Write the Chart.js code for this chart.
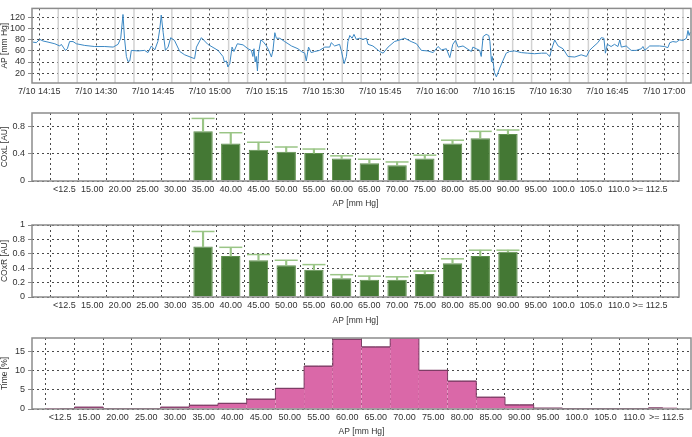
<!DOCTYPE html>
<html>
<head>
<meta charset="utf-8">
<title>AP / COx</title>
<script src="https://cdn.jsdelivr.net/npm/chart.js@4.4.1/dist/chart.umd.min.js"></script>
<style>
  html, body { margin: 0; padding: 0; background: #fff; }
  #page { position: relative; width: 692px; height: 437px; overflow: hidden; }
  #page canvas { position: absolute; left: 0; }
</style>
</head>
<body>
<div id="page">
  <canvas id="apChart" width="692" height="100" style="top:0"></canvas>
  <canvas id="coxlChart" width="692" height="112" style="top:100px"></canvas>
  <canvas id="coxrChart" width="692" height="117" style="top:212px"></canvas>
  <canvas id="timeChart" width="692" height="108" style="top:329px"></canvas>
</div>
<script>
'use strict';

// ---- data ----------------------------------------------------------------
// arterial pressure trace, time in minutes since midnight (7/10)
const apMinutes = [
    853.3, 854.2, 855.1, 856.0, 857.3, 859.1, 860.4, 860.8, 861.3, 861.9,
    862.4, 863.0, 863.9, 864.8, 867.0, 869.6, 872.3, 874.5, 875.8, 876.5,
    877.1, 877.5, 878.0, 878.4, 878.9, 879.3, 881.1, 882.8, 883.7, 884.6,
    885.5, 886.3, 886.8, 887.2, 887.7, 888.3, 889.0, 889.7, 890.7, 892.1,
    893.4, 896.0, 896.5, 897.8, 899.5, 902.2, 903.5, 903.9, 904.4, 904.8,
    905.3, 905.9, 906.4, 907.3, 908.8, 910.1, 911.0, 911.4, 911.7, 912.0,
    912.3, 912.6, 912.9, 913.5, 914.1, 915.0, 915.6, 916.3, 916.7, 917.2,
    917.6, 918.5, 919.8, 921.6, 923.3, 924.2, 925.1, 925.5, 926.1, 926.8,
    927.7, 929.0, 930.4, 931.7, 932.1, 933.0, 934.3, 934.8, 935.5, 936.1,
    936.5, 937.0, 937.6, 938.1, 938.7, 939.6, 940.5, 941.4, 941.8, 943.1,
    944.9, 945.8, 947.1, 948.8, 950.2, 951.5, 953.2, 954.6, 955.9, 957.6,
    959.0, 960.3, 961.2, 962.5, 963.4, 964.2, 964.9, 965.6, 966.9, 968.2,
    969.1, 969.5, 970.4, 971.3, 971.7, 972.2, 973.0, 973.7, 974.0, 974.4,
    974.6, 974.9, 975.2, 975.7, 976.6, 977.4, 978.3, 979.2, 980.5, 982.3,
    984.0, 985.8, 987.6, 988.9, 989.8, 990.2, 991.1, 992.0, 993.3, 994.6,
    996.4, 998.1, 999.5, 1000.3, 1001.2, 1002.5, 1003.4, 1004.1, 1004.5, 1005.0,
    1006.0, 1006.9, 1007.8, 1008.3, 1008.7, 1010.0, 1011.3, 1012.6, 1014.0, 1014.4,
    1014.9, 1016.2, 1018.8, 1020.1, 1021.0, 1021.5, 1022.3, 1023.2, 1024.1, 1025.0,
    1025.9, 1026.3, 1026.6, 1026.9
];
const apValues = [
    76, 75, 81, 78, 76, 73, 69, 72, 67, 61,
    64, 77, 77, 73, 70, 68, 68, 67, 72, 83,
    126, 83, 50, 41, 42, 61, 60, 61, 57, 69,
    62, 77, 99, 125, 94, 61, 67, 84, 79, 59,
    53, 46, 67, 84, 72, 61, 50, 40, 42, 31,
    37, 67, 59, 73, 71, 64, 61, 50, 64, 40,
    50, 24, 56, 80, 77, 69, 61, 49, 61, 93,
    83, 83, 77, 69, 64, 59, 56, 42, 67, 57,
    59, 61, 67, 67, 75, 69, 72, 59, 37, 50,
    77, 88, 83, 90, 81, 83, 81, 83, 72, 69,
    59, 56, 67, 77, 80, 83, 77, 73, 61, 60,
    57, 68, 62, 64, 48, 72, 79, 67, 69, 63,
    59, 67, 64, 61, 50, 86, 90, 88, 77, 40,
    50, 37, 21, 13, 29, 42, 56, 59, 60, 57,
    56, 55, 56, 56, 50, 61, 80, 69, 64, 50,
    49, 53, 50, 61, 67, 75, 84, 83, 56, 72,
    68, 72, 68, 80, 67, 69, 61, 61, 64, 68,
    61, 69, 69, 68, 66, 75, 77, 76, 80, 79,
    83, 97, 88, 94
];
const apTimeRange = [853.07, 1027.1];
const apRange = [2, 137];
const apTickDate = '7/10';

// AP bins shared by the three lower panels
const apBins = ['<12.5', '15.00', '20.00', '25.00', '30.00', '35.00', '40.00', '45.00',
    '50.00', '55.00', '60.00', '65.00', '70.00', '75.00', '80.00', '85.00', '90.00',
    '95.00', '100.0', '105.0', '110.0', '>= 112.5'];

// COx per bin (mean and upper error), null = no data
const coxL = [null, null, null, null, null, 0.73, 0.55, 0.46, 0.43, 0.41, 0.33, 0.26,
    0.23, 0.33, 0.55, 0.63, 0.69, null, null, null, null, null];
const coxLErr = [null, null, null, null, null, 0.19, 0.16, 0.11, 0.07, 0.06, 0.04, 0.06,
    0.05, 0.05, 0.05, 0.10, 0.06, null, null, null, null, null];
const coxR = [null, null, null, null, null, 0.70, 0.57, 0.51, 0.44, 0.38, 0.26, 0.24,
    0.24, 0.32, 0.47, 0.57, 0.63, null, null, null, null, null];
const coxRErr = [null, null, null, null, null, 0.21, 0.12, 0.08, 0.07, 0.07, 0.05, 0.05,
    0.04, 0.04, 0.06, 0.08, 0.02, null, null, null, null, null];

// share of monitoring time per bin [%]
const timePct = [0.05, 0.5, 0.05, 0.05, 0.5, 1.0, 1.5, 2.6, 5.4, 11.2, 18.2, 16.2,
    18.5, 10.1, 7.3, 3.1, 1.1, 0.25, 0.1, 0.1, 0.1, 0.3];

// ---- styles ---------------------------------------------------------------
const TEXT = '#333';
const GRID = '#4a4a4a';
const DASH = [2, 3];
const FRAME = '#8c8c8c';
const MINOR = '#d2d2d2';
const BLUE = '#3b88c4';
const GREEN = '#447834';
const ERR = '#9ac586';
const PINK = '#da68a8';
const PINK_EDGE = '#7e3d66';
const TITLE_FONT = { size: 8.5 };

Chart.defaults.font.family = '"Liberation Sans", Arial, Helvetica, sans-serif';
Chart.defaults.font.size = 9;
Chart.defaults.color = TEXT;

const hhmm = (m) => {
    const h = Math.floor(m / 60);
    const mm = Math.round(m - h * 60);
    return h + ':' + String(mm).padStart(2, '0');
};

// 1, 0.8, ... 0 without trailing zeros
const plainNum = (v) => String(+Number(v).toFixed(2));

// box around the plot area
const frame = {
    id: 'frame',
    afterDatasetsDraw(chart) {
        const a = chart.chartArea, ctx = chart.ctx;
        ctx.save();
        ctx.strokeStyle = FRAME;
        ctx.lineWidth = 1.5;
        ctx.strokeRect(a.left, a.top, a.right - a.left, a.bottom - a.top);
        ctx.restore();
    }
};

// light solid lines between the dashed major time lines
function minorGrid(step, major) {
    return {
        id: 'minorGrid',
        beforeDatasetsDraw(chart) {
            const x = chart.scales.x, a = chart.chartArea, ctx = chart.ctx;
            ctx.save();
            ctx.strokeStyle = MINOR;
            ctx.lineWidth = 1.5;
            for (let v = Math.ceil(x.min / step) * step; v <= x.max; v += step) {
                if (v % major === 0) continue;
                const px = x.getPixelForValue(v);
                ctx.beginPath();
                ctx.moveTo(px, a.top);
                ctx.lineTo(px, a.bottom);
                ctx.stroke();
            }
            ctx.restore();
        }
    };
}

function baseOptions(padTop) {
    return {
        responsive: false,
        animation: false,
        events: [],
        layout: { padding: { top: padTop, right: 1, bottom: 0, left: 0 } },
        plugins: { legend: { display: false }, tooltip: { enabled: false } }
    };
}

function yAxis(title, min, max, step) {
    return {
        min: min,
        max: max,
        ticks: { stepSize: step, includeBounds: false, padding: 3, callback: plainNum },
        grid: { color: GRID, tickColor: FRAME, tickLength: 4 },
        border: { display: false, dash: DASH },
        title: { display: true, text: title, padding: 0, font: TITLE_FONT },
        afterFit: (s) => { s.width = 32; }
    };
}

function binAxis(height, lo, hi, titlePad) {
    const last = apBins.length - 1;
    return {
        type: 'linear',
        min: lo,
        max: hi,
        ticks: {
            stepSize: 1, includeBounds: false, autoSkip: false, maxRotation: 0, padding: 3,
            // nudge the wide last label right, as in the original plot
            callback: (v) => apBins[v] === undefined ? '' : (v === last ? '\u2002 ' + apBins[v] : apBins[v])
        },
        grid: { color: GRID, drawTicks: false },
        border: { display: false, dash: DASH },
        title: { display: true, text: 'AP [mm Hg]', padding: { top: 0, bottom: titlePad }, font: TITLE_FONT },
        afterFit: (s) => { s.height = height; }
    };
}

// ---- AP over time ---------------------------------------------------------
new Chart(document.getElementById('apChart'), {
    type: 'line',
    data: {
        datasets: [{
            data: apMinutes.map((t, i) => ({ x: t, y: apValues[i] })),
            borderColor: BLUE,
            borderWidth: 1,
            pointRadius: 0,
            tension: 0
        }]
    },
    options: Object.assign(baseOptions(1), {
        scales: {
            x: {
                type: 'linear',
                min: apTimeRange[0],
                max: apTimeRange[1],
                ticks: {
                    stepSize: 15, includeBounds: false, autoSkip: false, maxRotation: 0, padding: 3,
                    callback: (v) => apTickDate + ' ' + hhmm(v)
                },
                grid: { color: GRID, drawTicks: false },
                border: { display: false, dash: DASH },
                afterFit: (s) => { s.height = 17; }
            },
            y: yAxis('AP [mm Hg]', apRange[0], apRange[1], 20)
        }
    }),
    plugins: [minorGrid(5, 15), frame]
});

// ---- COx per AP bin -------------------------------------------------------
function coxChart(id, title, values, errs, padTop, axisHeight) {
    const bars = [], stems = [], caps = [];
    values.forEach((v, i) => {
        if (v === null) return;
        const top = v + errs[i];
        bars.push({ x: i, y: v });
        stems.push({ x: i, y: [v, top] });
        caps.push({ x: i, y: top });
    });
    return new Chart(document.getElementById(id), {
        type: 'bar',
        data: {
            datasets: [
                {
                    type: 'line', data: caps, showLine: false,
                    pointStyle: 'line', pointRadius: 11.5,
                    pointBorderWidth: 1.5, pointBorderColor: ERR, borderColor: ERR
                },
                {
                    data: stems, backgroundColor: ERR, barThickness: 1.5, grouped: false
                },
                {
                    data: bars, backgroundColor: GREEN, borderColor: '#5e8f4c', borderWidth: 1,
                    barPercentage: 0.7, categoryPercentage: 1, grouped: false
                }
            ]
        },
        options: Object.assign(baseOptions(padTop), {
            scales: {
                x: binAxis(axisHeight, -0.64, 21.64, 3),
                y: yAxis(title, 0, 1, 0.2)
            }
        }),
        plugins: [frame]
    });
}

coxChart('coxlChart', 'COxL [AU]', coxL, coxLErr, 7, 31);
coxChart('coxrChart', 'COxR [AU]', coxR, coxRErr, 12, 32);

// ---- time share histogram -------------------------------------------------
new Chart(document.getElementById('timeChart'), {
    type: 'bar',
    data: {
        datasets: [
            {
                type: 'line', data: timePct.map((v, i) => ({ x: i, y: v })),
                stepped: 'middle', borderColor: PINK_EDGE, borderWidth: 1, pointRadius: 0, fill: false
            },
            {
                data: timePct.map((v, i) => ({ x: i, y: v })),
                backgroundColor: PINK, borderColor: PINK_EDGE,
                borderWidth: { top: 1, right: 0, bottom: 0, left: 0 },
                barPercentage: 1, categoryPercentage: 1
            }
        ]
    },
    options: Object.assign(baseOptions(9), {
        scales: {
            x: binAxis(28, -0.46, 21.46, 0),
            y: yAxis('Time [%]', 0, 18.5, 5)
        }
    }),
    plugins: [frame]
});
</script>
</body>
</html>
